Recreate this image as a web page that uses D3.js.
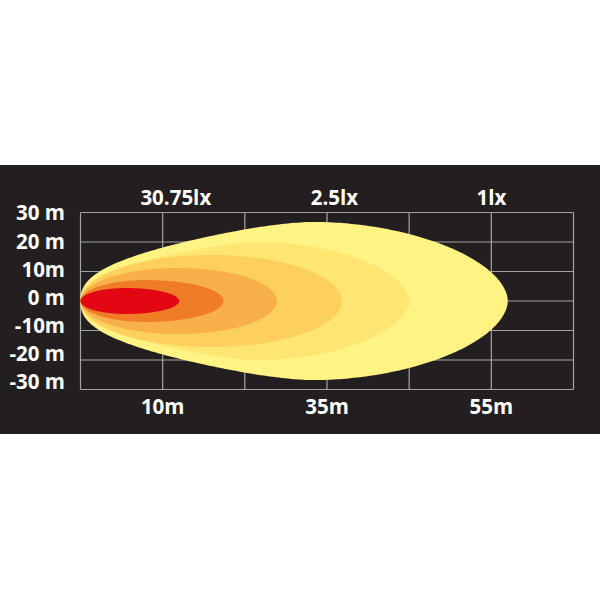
<!DOCTYPE html>
<html>
<head>
<meta charset="utf-8">
<script src="https://cdn.jsdelivr.net/npm/d3@7"></script>
<style>
  html, body { margin: 0; padding: 0; background: #ffffff; }
  svg { display: block; }
  text { font-family: "Open Sans", "Noto Sans", sans-serif; font-weight: 700; fill: #ffffff; }
</style>
</head>
<body>
<svg id="chart" width="600" height="600"></svg>
<script>
// ---- data ----
const gridX = [0, 10, 20, 30, 40, 50, 60];
const gridY = [-30, -20, -10, 0, 10, 20, 30];
const yTickValues = [30, 20, 10, 0, -10, -20, -30];
const yTickLabels = ["30 m", "20 m", "10m", "0 m", "-10m", "-20 m", "-30 m"];
const bottomTickValues = [10, 30, 50];
const bottomTickLabels = ["10m", "35m", "55m"];
const topTickValues = [11.6, 30.9, 50];
const topTickLabels = ["30.75lx", "2.5lx", "1lx"];
// beam layers, outermost first: reach (m) and half width (m)
const layerReach = [52.0, 40.0, 31.8, 23.9, 17.4, 12.0];
const layerHalfWidth = [26.8, 20.0, 15.6, 11.2, 7.1, 4.4];
const layerColors = ["#FFF383", "#FFE571", "#FDCF5C", "#F8B04A", "#F07C26", "#E30613"];

// ---- layout ----
const svg = d3.select("#chart");
svg.append("rect").attr("x", 0).attr("y", 165).attr("width", 600).attr("height", 269).attr("fill", "#231F20");

const x = d3.scaleLinear().domain([0, 60]).range([80.5, 573.5]);
const y = d3.scaleLinear().domain([-30, 30]).range([389.5, 212.5]);
const yLabel = d3.scaleLinear().domain([-30, 30]).range([382, 213]);

// grid
const grid = svg.append("g").attr("stroke", "#a3a3a3").attr("stroke-width", 1.2);
grid.selectAll("line.v").data(gridX).join("line").attr("class", "v")
  .attr("x1", d => x(d)).attr("x2", d => x(d)).attr("y1", y(30)).attr("y2", y(-30));
grid.selectAll("line.h").data(gridY).join("line").attr("class", "h")
  .attr("y1", d => y(d)).attr("y2", d => y(d)).attr("x1", x(0)).attr("x2", x(60));

// beam shape profile: outer layers have a conical nose, inner ones are elliptic
function profile(reach, half, kind) {
  const n = 220, pts = [];
  const pf = kind === "outer" ? 0.55 : (kind === "mid" ? 0.5 : 0.46);
  const a = 0.4, s = 0.3;
  for (let i = 0; i <= n; i++) {
    const t = (1 - Math.cos(Math.PI * i / n)) / 2;
    let f;
    if (t <= pf) {
      const u = t / pf, w = 1 - u;
      if (kind === "outer") f = Math.pow(u, a) * (1 + a * w * Math.exp(-w / s));
      else f = Math.sqrt(Math.max(0, u * (2 - u)));
    } else {
      const v = (t - pf) / (1 - pf);
      const p = kind === "outer" ? 1.85 : 2;
      f = Math.pow(Math.max(0, 1 - Math.pow(v, p)), 1 / p);
    }
    pts.push({ d: reach * t, h: half * f });
  }
  return pts;
}
const area = d3.area().x(p => x(p.d)).y0(p => y(-p.h)).y1(p => y(p.h)).curve(d3.curveLinear);
svg.append("g").selectAll("path")
  .data(layerReach.map((r, i) => ({ r, w: layerHalfWidth[i], c: layerColors[i],
    kind: i < 2 ? "outer" : (i < 4 ? "mid" : "inner") })))
  .join("path").attr("d", d => area(profile(d.r, d.w, d.kind))).attr("fill", d => d.c);

// labels
svg.append("g").selectAll("text").data(yTickValues).join("text")
  .attr("x", 65).attr("y", d => yLabel(d)).attr("dy", "0.36em")
  .attr("text-anchor", "end").attr("font-size", 20.5).text((d, i) => yTickLabels[i]);
svg.append("g").selectAll("text").data(bottomTickValues).join("text")
  .attr("x", d => x(d)).attr("y", 414).attr("text-anchor", "middle").attr("font-size", 20.5)
  .text((d, i) => bottomTickLabels[i]);
svg.append("g").selectAll("text").data(topTickValues).join("text")
  .attr("x", d => x(d)).attr("y", 205).attr("text-anchor", "middle").attr("font-size", 20.5)
  .text((d, i) => topTickLabels[i]);
</script>
</body>
</html>
